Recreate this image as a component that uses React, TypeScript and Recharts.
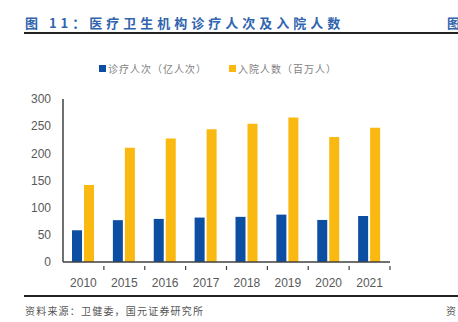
import React from "react";
import { BarChart, Bar, XAxis, YAxis } from "recharts";

// 医疗卫生机构诊疗人次及入院人数 (2010, 2015-2021)

const YEARS = ["2010", "2015", "2016", "2017", "2018", "2019", "2020", "2021"];
const VISITS = [58.4, 77.0, 79.3, 81.8, 83.1, 87.2, 77.4, 84.7]; // 亿人次
const ADMISSIONS = [141.7, 210.5, 227.3, 244.4, 254.5, 266.0, 230.1, 247.3]; // 百万人
const Y_TICKS = [0, 50, 100, 150, 200, 250, 300];

const BLUE = "#0c4ea2";
const YELLOW = "#f9b911";
const AXIS = "#404040";
const TEXT = "#595959";
const CJK = '"Noto Sans CJK SC", sans-serif';

const W = 458;
const H = 322;
const PLOT_LEFT = 63;
const PLOT_RIGHT = 390;

const data = YEARS.map((year, i) => ({
  year,
  visits: VISITS[i],
  admissions: ADMISSIONS[i],
}));

// x tick: label at the category centre, small inward tick mark at the left boundary
const XTick = (props: any) => {
  const { x, y, payload, index } = props;
  const band = (PLOT_RIGHT - PLOT_LEFT) / YEARS.length;
  const left = x - band / 2;
  return (
    <g>
      {index > 0 && <line x1={left} x2={left} y1={y - 4} y2={y} stroke={AXIS} strokeWidth={1.2} />}
      {index === YEARS.length - 1 && (
        <line x1={left + band} x2={left + band} y1={y - 4} y2={y} stroke={AXIS} strokeWidth={1.2} />
      )}
      <text x={x} y={y + 17} textAnchor="middle" fill={TEXT} fontSize={12} fontFamily="Liberation Sans, Arial, sans-serif">
        {payload.value}
      </text>
    </g>
  );
};

function LegendItem({ color, label }: { color: string; label: string }) {
  return (
    <span style={{ display: "inline-flex", alignItems: "center" }}>
      <span style={{ width: 7, height: 7, background: color, marginRight: 2 }} />
      <span>{label}</span>
    </span>
  );
}

export default function App() {
  return (
    <div
      style={{
        position: "absolute",
        left: 0,
        top: 0,
        width: W,
        height: H,
        overflow: "hidden",
        background: "#fff",
        fontFamily: CJK,
      }}
    >
      {/* title */}
      <div
        style={{
          position: "absolute",
          left: 25,
          top: 13,
          fontSize: 13,
          fontWeight: 700,
          letterSpacing: 4,
          color: "#3064ae",
          whiteSpace: "nowrap",
        }}
      >
        图 11：医疗卫生机构诊疗人次及入院人数
      </div>
      <div style={{ position: "absolute", left: 447, top: 13, fontSize: 13, fontWeight: 700, color: "#3064ae" }}>图</div>
      <div style={{ position: "absolute", left: 24, top: 32, width: W - 24, height: 2, background: "#222" }} />

      {/* legend */}
      <div
        style={{
          position: "absolute",
          left: 99,
          top: 61,
          fontSize: 10,
          letterSpacing: 1,
          color: "#7f7f7f",
          display: "flex",
          gap: 22,
          whiteSpace: "nowrap",
        }}
      >
        <LegendItem color={BLUE} label="诊疗人次（亿人次）" />
        <LegendItem color={YELLOW} label="入院人数（百万人）" />
      </div>

      <div style={{ position: "absolute", left: 0, top: 0 }}>
        <BarChart
          width={W}
          height={H}
          data={data}
          margin={{ top: 99, right: W - PLOT_RIGHT, bottom: 30, left: 0 }}
          barSize={10}
          barGap={2}
        >
          <XAxis
            dataKey="year"
            axisLine={{ stroke: AXIS, strokeWidth: 1.5 }}
            tickLine={false}
            tick={<XTick />}
            height={30}
            interval={0}
          />
          <YAxis
            domain={[0, 300]}
            ticks={Y_TICKS}
            width={PLOT_LEFT}
            axisLine={{ stroke: AXIS, strokeWidth: 1.5 }}
            tickLine={false}
            tickMargin={6}
            tick={{ fill: TEXT, fontSize: 12, fontFamily: "Liberation Sans, Arial, sans-serif" }}
          />
          <Bar dataKey="visits" fill={BLUE} isAnimationActive={false} />
          <Bar dataKey="admissions" fill={YELLOW} isAnimationActive={false} />
        </BarChart>
      </div>

      {/* source */}
      <div style={{ position: "absolute", left: 24, top: 295, width: W - 24, height: 2, background: "#222" }} />
      <div
        style={{
          position: "absolute",
          left: 25,
          top: 303,
          fontSize: 10,
          letterSpacing: 1.2,
          color: "#555",
          whiteSpace: "nowrap",
        }}
      >
        资料来源：卫健委，国元证券研究所
      </div>
      <div style={{ position: "absolute", left: 446, top: 303, fontSize: 10, color: "#555" }}>资</div>
    </div>
  );
}
